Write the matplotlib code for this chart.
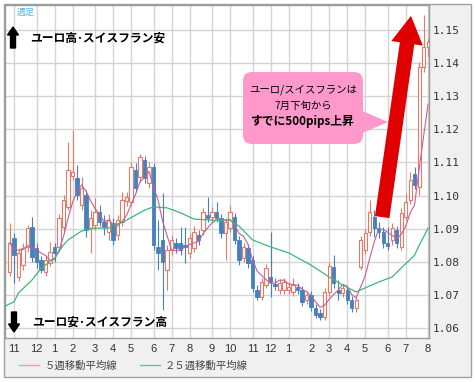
import numpy as np
import pandas as pd
import matplotlib
matplotlib.use("Agg")
import matplotlib.pyplot as plt
from matplotlib.patches import FancyBboxPatch, Polygon, FancyArrow, Rectangle
from matplotlib.lines import Line2D
from matplotlib.transforms import IdentityTransform

plt.rcParams['font.family'] = ['Noto Sans CJK JP', 'DejaVu Sans']

# EUR/CHF weekly candles, late Oct 2015 .. early Aug 2017
opens = [1.0769, 1.0872, 1.0754, 1.0790, 1.0845, 1.0905, 1.0842, 1.0805, 1.0769, 1.0796,
         1.0845, 1.0845, 1.0905, 1.0966, 1.1059, 1.1053, 1.0972, 1.1002, 1.0902, 1.0911,
         1.0950, 1.0920, 1.0890, 1.0917, 1.0881, 1.0920, 1.0984, 1.0981, 1.1077, 1.1056,
         1.1108, 1.1038, 1.1086, 1.0845, 1.0866, 1.0775, 1.0836, 1.0857, 1.0857, 1.0851,
         1.0827, 1.0842, 1.0881, 1.0896, 1.0941, 1.0935, 1.0950, 1.0932, 1.0887, 1.0902,
         1.0935, 1.0866, 1.0811, 1.0842, 1.0805, 1.0715, 1.0694, 1.0730, 1.0754, 1.0733,
         1.0715, 1.0715, 1.0715, 1.0709, 1.0724, 1.0715, 1.0685, 1.0700, 1.0660, 1.0645,
         1.0633, 1.0709, 1.0784, 1.0715, 1.0705, 1.0715, 1.0685, 1.0660, 1.0784, 1.0836,
         1.0890, 1.0935, 1.0902, 1.0890, 1.0857, 1.0866, 1.0896, 1.0845, 1.0935, 1.0987,
         1.1065, 1.1026, 1.1389, 1.1449]
highs = [1.0917, 1.0887, 1.0842, 1.0857, 1.0911, 1.0935, 1.0857, 1.0818, 1.0818, 1.0860,
         1.0857, 1.0944, 1.1002, 1.1162, 1.1198, 1.1092, 1.1056, 1.1017, 1.0956, 1.0993,
         1.0972, 1.0941, 1.0944, 1.0932, 1.0941, 1.1011, 1.1011, 1.1101, 1.1098, 1.1126,
         1.1120, 1.1101, 1.1098, 1.0926, 1.1008, 1.0851, 1.0881, 1.0872, 1.0905, 1.0905,
         1.0887, 1.0908, 1.0896, 1.0963, 1.0996, 1.0966, 1.0981, 1.0944, 1.0932, 1.0972,
         1.0947, 1.0878, 1.0857, 1.0854, 1.0818, 1.0730, 1.0751, 1.0793, 1.0890, 1.0751,
         1.0748, 1.0751, 1.0739, 1.0751, 1.0736, 1.0727, 1.0712, 1.0712, 1.0673, 1.0657,
         1.0721, 1.0799, 1.0821, 1.0745, 1.0733, 1.0727, 1.0697, 1.0697, 1.0878, 1.0899,
         1.0987, 1.0956, 1.0920, 1.0905, 1.0905, 1.0917, 1.0908, 1.0963, 1.1008, 1.1071,
         1.1086, 1.1404, 1.1546, 1.1476]
lows = [1.0757, 1.0736, 1.0742, 1.0775, 1.0830, 1.0799, 1.0781, 1.0766, 1.0757, 1.0787,
        1.0799, 1.0830, 1.0890, 1.0956, 1.1047, 1.0987, 1.0956, 1.0875, 1.0827, 1.0896,
        1.0908, 1.0881, 1.0866, 1.0851, 1.0866, 1.0908, 1.0969, 1.0972, 1.1011, 1.1041,
        1.1038, 1.1023, 1.0836, 1.0775, 1.0654, 1.0715, 1.0821, 1.0827, 1.0821, 1.0796,
        1.0811, 1.0830, 1.0851, 1.0881, 1.0920, 1.0920, 1.0920, 1.0872, 1.0805, 1.0890,
        1.0854, 1.0790, 1.0799, 1.0781, 1.0709, 1.0685, 1.0685, 1.0721, 1.0694, 1.0715,
        1.0703, 1.0703, 1.0703, 1.0697, 1.0703, 1.0666, 1.0673, 1.0651, 1.0630, 1.0624,
        1.0624, 1.0697, 1.0721, 1.0685, 1.0694, 1.0673, 1.0648, 1.0648, 1.0775, 1.0824,
        1.0878, 1.0875, 1.0872, 1.0842, 1.0836, 1.0851, 1.0842, 1.0836, 1.0926, 1.0975,
        1.1020, 1.1002, 1.1373, 1.1423]
closes = [1.0857, 1.0821, 1.0827, 1.0842, 1.0902, 1.0815, 1.0799, 1.0775, 1.0805, 1.0830,
          1.0827, 1.0932, 1.0987, 1.1077, 1.1071, 1.1002, 1.1023, 1.0896, 1.0932, 1.0950,
          1.0920, 1.0905, 1.0926, 1.0866, 1.0926, 1.0987, 1.0996, 1.1086, 1.1023, 1.1117,
          1.1053, 1.1086, 1.0851, 1.0827, 1.0799, 1.0836, 1.0866, 1.0842, 1.0836, 1.0845,
          1.0872, 1.0890, 1.0866, 1.0950, 1.0932, 1.0950, 1.0932, 1.0887, 1.0920, 1.0950,
          1.0866, 1.0805, 1.0845, 1.0796, 1.0721, 1.0694, 1.0739, 1.0781, 1.0739, 1.0727,
          1.0736, 1.0739, 1.0724, 1.0730, 1.0715, 1.0679, 1.0700, 1.0663, 1.0639, 1.0633,
          1.0709, 1.0787, 1.0736, 1.0705, 1.0721, 1.0685, 1.0660, 1.0685, 1.0866, 1.0887,
          1.0950, 1.0902, 1.0890, 1.0857, 1.0848, 1.0902, 1.0857, 1.0947, 1.0981, 1.1047,
          1.1032, 1.1389, 1.1449, 1.1464]

# 25-week moving average (candle index, value)
ma25_idx = [-1, 1, 2, 5, 7, 10, 12, 13, 16, 19, 22, 26, 30, 32, 35, 38, 41, 45, 49, 51,
            54, 58, 62, 67, 71, 74, 77, 79, 82, 85, 87, 90, 91, 92, 93]
ma25_val = [1.0666, 1.0679, 1.0706, 1.0745, 1.0780, 1.0811, 1.0851, 1.0866, 1.0893, 1.0902,
            1.0902, 1.0926, 1.0956, 1.0966, 1.0963, 1.0948, 1.0929, 1.0926, 1.0926, 1.0908,
            1.0866, 1.0845, 1.0827, 1.0790, 1.0754, 1.0730, 1.0709, 1.0721, 1.0739, 1.0754,
            1.0781, 1.0820, 1.0850, 1.0875, 1.0902]

month_idx = [1, 6, 10, 14, 19, 23, 27, 32, 36, 40, 45, 49, 54, 58, 62, 67, 71, 75, 79, 84, 88, 93]
month_lbl = ["11", "12", "1", "2", "3", "4", "5", "6", "7", "8", "9", "10",
             "11", "12", "1", "2", "3", "4", "5", "6", "7", "8"]
yticks = [1.06, 1.07, 1.08, 1.09, 1.10, 1.11, 1.12, 1.13, 1.14, 1.15]

W, H = 475, 382
red = '#e47a66'
blue = '#4680bd'
ma5_col = '#c85c9c'
ma25_col = '#3cb878'

o = np.array(opens); c = np.array(closes)
hi = np.array(highs); lo = np.array(lows)
idx = np.arange(len(o))
up = c >= o
ma5 = pd.Series(c).rolling(5, min_periods=1).mean()

fig = plt.figure(figsize=(W / 100, H / 100), dpi=100)
fig.patch.set_facecolor('white')

# grey panel with frame
frame = Rectangle((4, H - 377), 467, 373, transform=IdentityTransform(),
                  facecolor='#f0f0f0', edgecolor='#a0a0a0', lw=1, zorder=-1)
fig.add_artist(frame)

ax = fig.add_axes([5 / W, (H - 338) / H, 424 / W, 333 / H])
ax.set_facecolor('white')

ax.vlines(idx, lo, hi, colors=np.where(up, red, blue), lw=0.8, zorder=2)
ax.bar(idx[up], (c - o)[up], bottom=o[up], width=0.7, facecolor='white',
       edgecolor=red, lw=0.8, zorder=3)
ax.bar(idx[~up], (o - c)[~up], bottom=c[~up], width=0.7, facecolor=blue,
       edgecolor=blue, lw=0.6, zorder=3)
ax.plot(idx, ma5, color=ma5_col, lw=0.8, zorder=4)
ax.plot(ma25_idx, ma25_val, color=ma25_col, lw=0.9, zorder=4)

ax.set_xlim(-1.0, 93.2)
ax.set_ylim(1.05698, 1.15758)
ax.set_xticks(month_idx)
ax.set_xticklabels(month_lbl, fontfamily='Liberation Sans', fontsize=8, color='#333333')
ax.set_yticks(yticks)
ax.set_yticklabels(["%.2f" % v for v in yticks], fontfamily='DejaVu Sans Mono',
                   fontsize=8, color='#333333')
ax.yaxis.tick_right()
ax.tick_params(axis='both', length=0)
ax.tick_params(axis='x', pad=4)
ax.tick_params(axis='y', pad=3)
ax.grid(True, color='#d4d4d4', lw=1)
ax.set_axisbelow(True)
for s in ax.spines.values():
    s.set_color('#9a9a9a')
    s.set_linewidth(1)

# legend
handles = [Line2D([], [], color='#e8a0b4', lw=1), Line2D([], [], color='#60c898', lw=1)]
fig.legend(handles, ['５週移動平均線', '２５週移動平均線'], loc='center left',
           bbox_to_anchor=(10 / W, 1 - 366 / H), ncol=2, frameon=False, fontsize=7.5,
           handlelength=1.9, handletextpad=0.5, columnspacing=2.2, labelcolor='#444444')

# labels
fig.text(17 / W, 1 - 12 / H, '週足', color='#4ab4e6', fontsize=6.5, va='center', ha='left')
fig.add_artist(FancyArrow(13, H - 48, 0, 21, width=5, head_width=11, head_length=8,
                          length_includes_head=True, color='black',
                          transform=IdentityTransform(), zorder=6))
fig.text(30 / W, 1 - 38 / H, 'ユーロ高･スイスフラン安', fontsize=8.5, fontweight='bold',
         va='center', ha='left', color='black')
fig.add_artist(FancyArrow(14, H - 312, 0, -20, width=5, head_width=11, head_length=8,
                          length_includes_head=True, color='black',
                          transform=IdentityTransform(), zorder=6))
fig.text(32 / W, 1 - 322 / H, 'ユーロ安･スイスフラン高', fontsize=8.5, fontweight='bold',
         va='center', ha='left', color='black')

# big red arrow
ax.annotate('', xy=(89.2, 1.1543), xytext=(82.8, 1.0935),
            arrowprops=dict(arrowstyle='simple,head_length=2.0,head_width=2.3,tail_width=1.05',
                            mutation_scale=10, fc='#e00000', ec='none', shrinkA=0, shrinkB=0),
            zorder=8)

# pink callout
box = FancyBboxPatch((243, H - 144), 120, 72, boxstyle='round,pad=0,rounding_size=9',
                     transform=IdentityTransform(), fc='#ff99cc', ec='none', zorder=7)
fig.add_artist(box)
tail = Polygon([(360, H - 110), (388, H - 122), (360, H - 134)], closed=True,
               transform=IdentityTransform(), fc='#ff99cc', ec='none', zorder=7)
fig.add_artist(tail)
fig.text(303 / W, 1 - 90 / H, 'ユーロ/スイスフランは', fontsize=7.5, ha='center', va='center',
         color='black', zorder=9)
fig.text(303 / W, 1 - 106 / H, '7月下旬から', fontsize=7.5, ha='center', va='center',
         color='black', zorder=9)
fig.text(303 / W, 1 - 121 / H, 'すでに500pips上昇', fontsize=8.5, fontweight='bold',
         ha='center', va='center', color='black', zorder=9)

fig.savefig('out.png', dpi=100)
